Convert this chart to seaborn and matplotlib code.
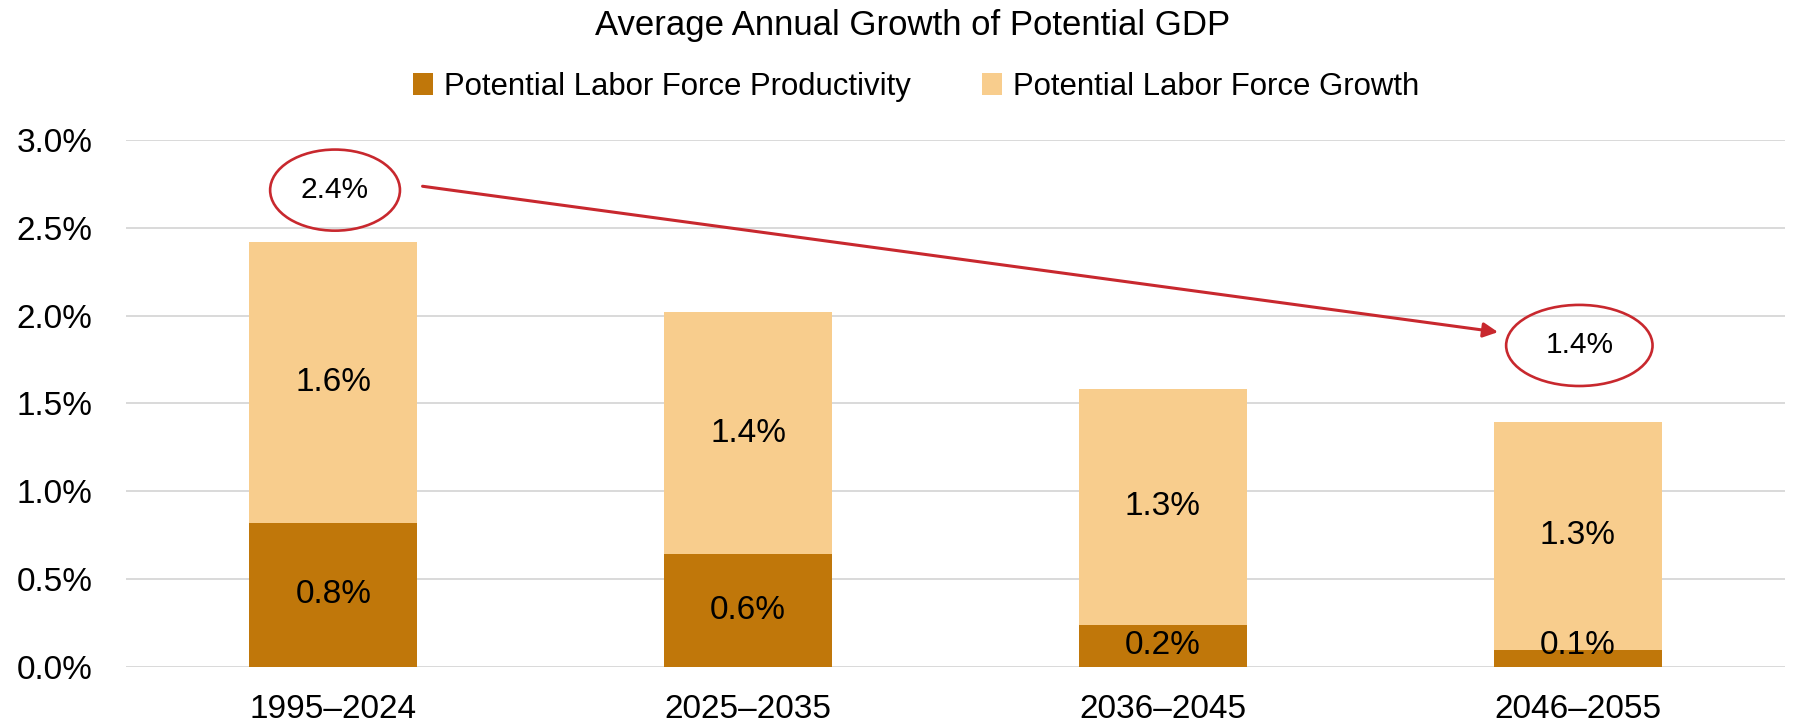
import matplotlib
matplotlib.use("Agg")
import matplotlib.pyplot as plt
from matplotlib.patches import Ellipse, Patch
from matplotlib.ticker import FuncFormatter, MultipleLocator
import pandas as pd
import seaborn as sns

# Data (percent)
periods = ["1995–2024", "2025–2035", "2036–2045", "2046–2055"]
productivity = [0.82, 0.64, 0.24, 0.095]
labor_growth = [1.60, 1.38, 1.34, 1.30]
series_names = ["Potential Labor Force Productivity", "Potential Labor Force Growth"]

DARK = "#C0770A"
LIGHT = "#F8CD8D"
RED = "#C8282E"
GRID = "#D9D9D9"

sns.set_theme(style="white")
plt.rcParams["font.family"] = ["Liberation Sans", "DejaVu Sans"]
plt.rcParams["text.color"] = "black"

totals = [p + g for p, g in zip(productivity, labor_growth)]
df = pd.DataFrame({"period": periods, "productivity": productivity,
                   "growth": labor_growth, "total": totals})

fig = plt.figure(figsize=(18, 7.27), dpi=100)
ax = fig.add_axes([0.07, 0.083, 0.9217, 0.7243])

# Stacked bars: full stack in light colour, productivity segment drawn over it
sns.barplot(data=df, x="period", y="total", color=LIGHT, width=0.405,
            saturation=1, linewidth=0, edgecolor="none", ax=ax, zorder=2)
sns.barplot(data=df, x="period", y="productivity", color=DARK, width=0.405,
            saturation=1, linewidth=0, edgecolor="none", ax=ax, zorder=3)

ax.set_xlim(-0.5, 3.5)
ax.set_ylim(0, 3.0)
ax.yaxis.set_major_locator(MultipleLocator(0.5))
ax.yaxis.set_major_formatter(FuncFormatter(lambda v, _: f"{v:.1f}%"))
ax.set_xlabel("")
ax.set_ylabel("")
ax.yaxis.grid(True, color=GRID, lw=1.4, zorder=0)
ax.set_axisbelow(True)
for s in ax.spines.values():
    s.set_visible(False)
ax.tick_params(axis="y", length=0, pad=24, labelsize=24, labelcolor="black")
ax.tick_params(axis="x", length=0, pad=20, labelsize=24, labelcolor="black")

# Segment value labels
for i in range(len(periods)):
    p, g = productivity[i], labor_growth[i]
    ax.text(i, max(p / 2, 0.12), f"{p:.1f}%", ha="center", va="center",
            fontsize=24, color="black", zorder=5)
    ax.text(i, p + g / 2, f"{g:.1f}%", ha="center", va="center",
            fontsize=24, color="black", zorder=5)

# Circled totals for first and last period
callouts = [(0, 2.715, 0.313), (3, 1.83, 0.353)]
for idx, yc, w in callouts:
    ax.add_patch(Ellipse((idx + 0.004, yc), w, 0.462, fill=False,
                         edgecolor=RED, lw=1.9, zorder=6, clip_on=False))
    ax.text(idx + 0.004, yc, f"{totals[idx]:.1f}%", ha="center", va="center",
            fontsize=21.5, color="black", zorder=7)

ax.annotate("", xy=(2.808, 1.906), xytext=(0.215, 2.737),
            arrowprops=dict(arrowstyle="-|>", color=RED, lw=2.2,
                            mutation_scale=22, shrinkA=0, shrinkB=0),
            zorder=6)

fig.text(913 / 1800, 1 - 26 / 727, "Average Annual Growth of Potential GDP",
         ha="center", va="center", fontsize=25, color="black")

handles = [Patch(facecolor=DARK, edgecolor="none"),
           Patch(facecolor=LIGHT, edgecolor="none")]
fig.legend(handles, series_names, loc="center", ncol=2,
           bbox_to_anchor=(916 / 1800, 1 - 87 / 727), frameon=False,
           fontsize=22.4, labelcolor="black", handlelength=0.65,
           handleheight=0.72, handletextpad=0.35, columnspacing=2.3)

fig.savefig("out.png", dpi=100)
